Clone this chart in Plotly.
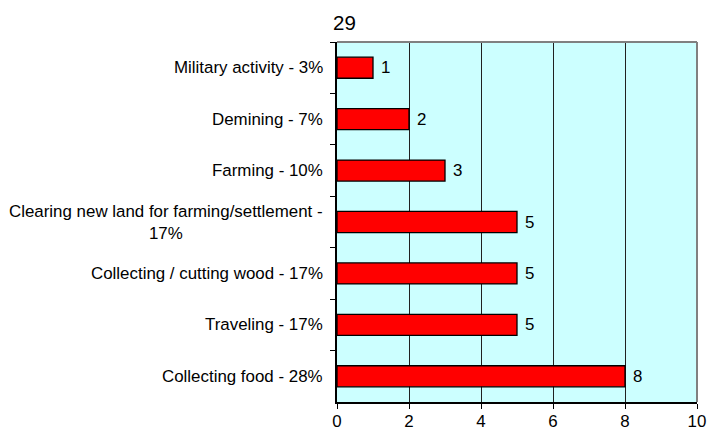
import plotly.graph_objects as go

categories = [
    "Military activity - 3%",
    "Demining - 7%",
    "Farming - 10%",
    "Clearing new land for farming/settlement -<br>17%",
    "Collecting / cutting wood - 17%",
    "Traveling - 17%",
    "Collecting food - 28%",
]
values = [1, 2, 3, 5, 5, 5, 8]
x_ticks = [0, 2, 4, 6, 8, 10]
title_text = "29"

font_family = "Liberation Sans, Arial, sans-serif"
label_size = 16.9

fig = go.Figure()
fig.add_trace(go.Bar(
    y=categories,
    x=values,
    orientation="h",
    marker=dict(color="#FF0000", line=dict(color="#000000", width=1.3)),
    width=0.41,
    hoverinfo="skip",
))

annotations = []
for c in categories:
    annotations.append(dict(
        x=0, xref="paper", xanchor="right", xshift=-12,
        y=c, yref="y", yanchor="middle",
        text=c, showarrow=False, align="center",
        font=dict(family=font_family, size=label_size, color="#000000"),
    ))
for c, v in zip(categories, values):
    annotations.append(dict(
        x=v, xref="x", xanchor="left", xshift=6,
        y=c, yref="y", yanchor="middle",
        text=str(v), showarrow=False,
        font=dict(family=font_family, size=label_size, color="#000000"),
    ))
annotations.append(dict(
    x=0, xref="paper", xanchor="left", xshift=-6,
    y=1, yref="paper", yanchor="middle", yshift=20,
    text=title_text, showarrow=False,
    font=dict(family=font_family, size=20.5, color="#000000"),
))

fig.update_layout(
    width=709, height=430,
    margin=dict(l=337, r=12, t=42, b=28, autoexpand=False),
    paper_bgcolor="#FFFFFF",
    plot_bgcolor="#CCFFFF",
    showlegend=False,
    annotations=annotations,
    font=dict(family=font_family, size=label_size, color="#000000"),
    shapes=[
        dict(type="line", xref="paper", yref="paper", x0=0, x1=1, y0=1, y1=1,
             line=dict(color="#808080", width=2)),
        dict(type="line", xref="paper", yref="paper", x0=1, x1=1, y0=0, y1=1,
             line=dict(color="#808080", width=2)),
    ],
)
fig.update_xaxes(
    range=[0, 10], tickvals=x_ticks, ticktext=[str(v) for v in x_ticks],
    showgrid=True, gridcolor="#202020", gridwidth=1,
    showline=True, linecolor="#000000", linewidth=1.5,
    ticks="outside", ticklen=5, tickcolor="#000000",
    ticklabelstandoff=-2,
    tickfont=dict(family=font_family, size=label_size, color="#000000"),
    zeroline=False, fixedrange=True, automargin=False,
)
fig.update_yaxes(
    categoryorder="array", categoryarray=categories, autorange="reversed",
    showticklabels=False, tickson="boundaries",
    ticks="outside", ticklen=5, tickcolor="#000000",
    showline=True, linecolor="#000000", linewidth=1.5,
    showgrid=False, zeroline=False, fixedrange=True, automargin=False,
)

fig.write_html(
    "out.html",
    config={"displayModeBar": False},
    post_script="document.body.style.margin='0';document.body.style.overflow='hidden';",
)
